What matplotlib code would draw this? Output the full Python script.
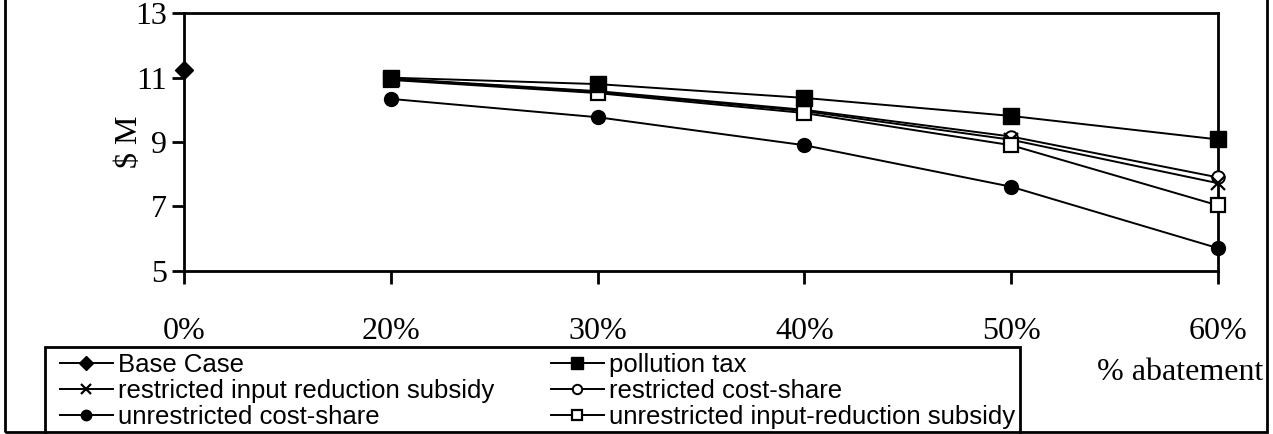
import matplotlib.pyplot as plt
from matplotlib.patches import Rectangle

plt.rcParams['font.family'] = ['Liberation Serif', 'DejaVu Serif']

# abatement levels (categorical x axis)
levels = ['0%', '20%', '30%', '40%', '50%', '60%']

# cost in $M per policy
base_case = [11.23]
pollution_tax = [11.00, 10.80, 10.37, 9.81, 9.08]
restricted_cs = [10.97, 10.58, 10.00, 9.17, 7.90]
restricted_irs = [10.96, 10.56, 9.96, 9.07, 7.72]
unrestricted_irs = [10.93, 10.52, 9.90, 8.90, 7.03]
unrestricted_cs = [10.34, 9.77, 8.90, 7.61, 5.70]

fig = plt.figure(figsize=(12.73, 4.34), dpi=100)
ax = fig.add_axes([184 / 1273, 1 - 270.7 / 434, (1218 - 184) / 1273, (270.7 - 13.3) / 434])

xs = list(range(1, len(levels)))
lw = 1.4
h_base, = ax.plot([0], base_case, '-', color='black', lw=lw, marker='D', ms=9,
                  label='Base Case', clip_on=False, zorder=5)
h_rcs, = ax.plot(xs, restricted_cs, '-', color='black', lw=lw, marker='o', ms=9,
                 mfc='white', mew=1.4, label='restricted cost-share', clip_on=False, zorder=4)
h_rirs, = ax.plot(xs, restricted_irs, '-', color='black', lw=lw, marker='x', ms=10,
                  mew=1.6, label='restricted input reduction subsidy', clip_on=False, zorder=4)
h_uirs, = ax.plot(xs, unrestricted_irs, '-', color='black', lw=lw, marker='s', ms=10,
                  mfc='white', mew=1.6, label='unrestricted input-reduction subsidy',
                  clip_on=False, zorder=4)
h_ucs, = ax.plot(xs, unrestricted_cs, '-', color='black', lw=lw, marker='o', ms=10,
                 label='unrestricted cost-share', clip_on=False, zorder=4)
h_tax, = ax.plot(xs, pollution_tax, '-', color='black', lw=lw, marker='s', ms=11.5,
                 label='pollution tax', clip_on=False, zorder=6)

ax.set_xlim(0, 5)
ax.set_ylim(5, 13)
ax.set_yticks([5, 7, 9, 11, 13])
ax.set_xticks(range(len(levels)))
ax.set_xticklabels(levels)
for s in ax.spines.values():
    s.set_linewidth(2)
ax.tick_params(axis='both', direction='out', length=9, width=2, labelsize=23)
ax.tick_params(axis='x', pad=24)
ax.tick_params(axis='y', pad=3)
ax.set_ylabel('$ M', fontsize=23, labelpad=-6)

fig.text(1097 / 1273, 1 - 373 / 434, '% abatement', fontsize=23, va='center', ha='left')

fig.legend(handles=[h_base, h_rirs, h_ucs, h_tax, h_rcs, h_uirs], ncol=2,
           loc='upper left', bbox_to_anchor=(60 / 1273, 1 - 353 / 434),
           prop={'family': 'Liberation Sans', 'size': 18.5}, frameon=False,
           handlelength=2.05, handletextpad=0.22, labelspacing=0.07,
           columnspacing=2.2, borderpad=0, borderaxespad=0, markerscale=0.75)

# legend box, runs off the bottom of the chart
fig.patches.append(Rectangle((45 / 1273, -0.2), (1020 - 45) / 1273, 0.2 + 87 / 434,
                             transform=fig.transFigure, fill=False, lw=2, ec='black'))

# outer chart border
fig.patches.append(Rectangle((5 / 1273, 2 / 434), 1262 / 1273, 1.2,
                             transform=fig.transFigure, fill=False, lw=2, ec='black'))

fig.savefig('out.png', dpi=100)
